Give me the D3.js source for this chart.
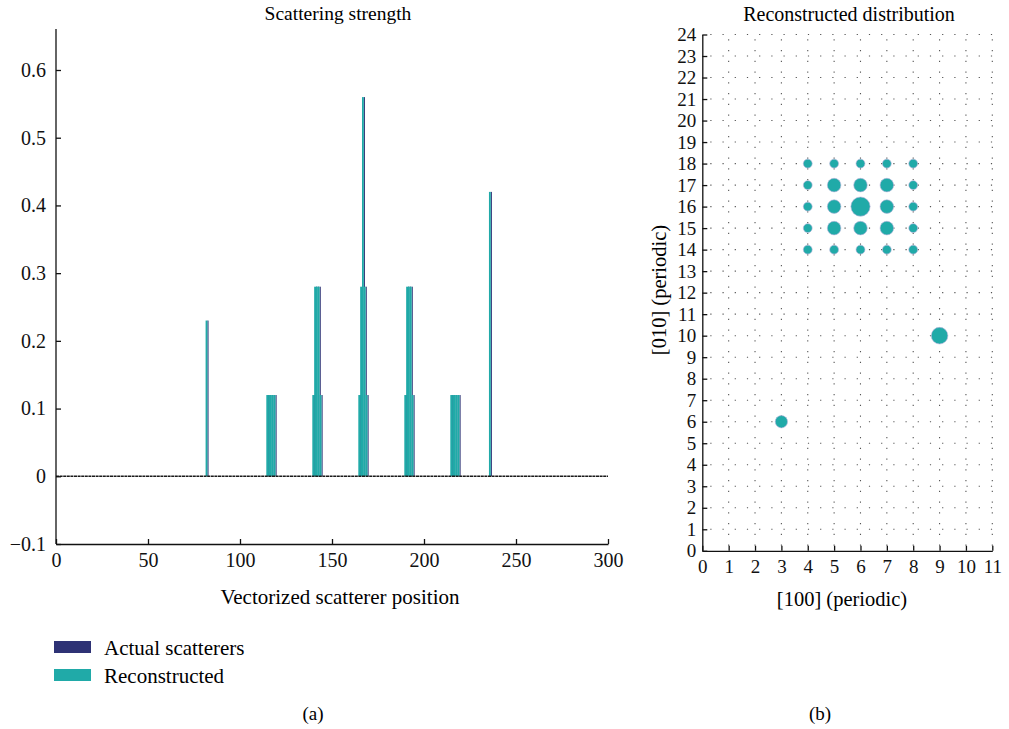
<!DOCTYPE html>
<html>
<head>
<meta charset="utf-8">
<script src="https://cdn.jsdelivr.net/npm/d3@7/dist/d3.min.js"></script>
<style>
  body { margin: 0; background: #fff; }
  svg { display: block; }
</style>
</head>
<body>
<svg id="chart" width="1009" height="729"></svg>
<script>
"use strict";

// non-zero entries of the 300-long scatterer vector (1-based index)
const positions = [82,
  115, 116, 117, 118, 119,
  140, 141, 142, 143, 144,
  165, 166, 167, 168, 169,
  190, 191, 192, 193, 194,
  215, 216, 217, 218, 219,
  236];
const actualValues = [0.23,
  0.12, 0.12, 0.12, 0.12, 0.12,
  0.12, 0.28, 0.28, 0.28, 0.12,
  0.12, 0.28, 0.56, 0.28, 0.12,
  0.12, 0.28, 0.28, 0.28, 0.12,
  0.12, 0.12, 0.12, 0.12, 0.12,
  0.42];
const reconstructedValues = actualValues.slice(); // exact recovery
const strengthTicks = [-0.1, 0, 0.1, 0.2, 0.3, 0.4, 0.5, 0.6];
const positionTicks = [0, 50, 100, 150, 200, 250, 300];
const gridCols = 12; // [100] 0..11
const gridRows = 25; // [010] 0..24
const legendLabels = ["Actual scatterers", "Reconstructed"];

const serif = "'Liberation Serif', 'DejaVu Serif', serif";
const navy = "#2e3275";
const teal = "#20aaa8";
const edge = "#b6b2dc";

const svg = d3.select("#chart").style("font-family", serif);

// ---------- (a) bar chart ----------
const xA = d3.scaleLinear().domain([0, 300]).range([56, 608]);
const yA = d3.scaleLinear().domain([-0.1, 0.6]).range([544, 70]);
const gA = svg.append("g");

gA.append("text").attr("x", 338).attr("y", 20).attr("text-anchor", "middle")
  .style("font-size", "19.5px").text("Scattering strength");

// one group per position: actual bar sits to the right, reconstructed on top to the left
const bars = gA.append("g").selectAll("g").data(positions).join("g");
bars.append("rect")
  .attr("x", (d) => xA(d + 0.3))
  .attr("width", (d) => xA(d + 0.9) - xA(d + 0.3))
  .attr("y", (d, i) => yA(actualValues[i]))
  .attr("height", (d, i) => yA(0) - yA(actualValues[i]))
  .attr("fill", navy);
bars.append("rect")
  .attr("x", (d) => xA(d - 0.7))
  .attr("width", (d) => xA(d + 0.3) - xA(d - 0.7))
  .attr("y", (d, i) => yA(reconstructedValues[i]))
  .attr("height", (d, i) => yA(0) - yA(reconstructedValues[i]))
  .attr("fill", teal);

// zero baseline
gA.append("line").attr("x1", xA(0)).attr("x2", xA(300))
  .attr("y1", yA(0)).attr("y2", yA(0))
  .attr("stroke", "#1a1a1a").attr("stroke-width", 1.6).attr("stroke-dasharray", "3,0.6");

const yAxisA = gA.append("g").attr("transform", `translate(${xA(0)},0)`)
  .call(d3.axisLeft(yA).tickValues(strengthTicks).tickSizeInner(-5).tickSizeOuter(0).tickPadding(10)
    .tickFormat((d) => d === 0 ? "0" : d3.format(".1f")(d).replace("-", "\u2212")));
yAxisA.select(".domain").attr("d", `M0,29V544`);

gA.append("g").attr("transform", `translate(0,${yA(-0.1)})`)
  .call(d3.axisBottom(xA).tickValues(positionTicks).tickSizeInner(-5).tickSizeOuter(0).tickPadding(9));

gA.selectAll(".tick text").style("font-family", serif).style("font-size", "20px").attr("fill", "#111");
gA.selectAll(".domain, .tick line").attr("stroke", "#111").attr("stroke-width", 1.3);

gA.append("text").attr("x", 340).attr("y", 604).attr("text-anchor", "middle")
  .style("font-size", "21px").text("Vectorized scatterer position");

// legend
const legend = gA.append("g").selectAll("g").data(legendLabels).join("g")
  .attr("transform", (d, i) => `translate(54,${641 + i * 28})`);
legend.append("rect").attr("width", 37).attr("height", 12)
  .attr("fill", (d, i) => i === 0 ? navy : teal);
legend.append("text").attr("x", 50).attr("y", 14).style("font-size", "21px").text((d) => d);

svg.append("text").attr("x", 313).attr("y", 720).attr("text-anchor", "middle")
  .style("font-size", "19px").text("(a)");

// ---------- (b) reconstructed distribution ----------
const xB = d3.scaleLinear().domain([0, gridCols - 1]).range([702.3, 992.3]);
const yB = d3.scaleLinear().domain([0, gridRows - 1]).range([550.8, 34.5]);
const rB = d3.scaleSqrt().domain([0, 0.56]).range([0, 9.6]);
const gB = svg.append("g");

gB.append("text").attr("x", 849).attr("y", 21).attr("text-anchor", "middle")
  .style("font-size", "20px").text("Reconstructed distribution");

// dotted grid
gB.append("g").selectAll("line").data(d3.range(1, gridRows)).join("line")
  .attr("x1", xB(0) + 8).attr("x2", xB(gridCols - 1))
  .attr("y1", (d) => yB(d)).attr("y2", (d) => yB(d))
  .attr("stroke", "#555").attr("stroke-width", 1.1).attr("stroke-dasharray", "1.2,11");
gB.append("g").selectAll("line").data(d3.range(1, gridCols)).join("line")
  .attr("x1", (d) => xB(d)).attr("x2", (d) => xB(d))
  .attr("y1", yB(0) - 5).attr("y2", yB(gridRows - 1))
  .attr("stroke", "#555").attr("stroke-width", 1.1).attr("stroke-dasharray", "1.2,9.55");

const cells = positions.map((p, i) => ({
  col: Math.floor((p - 1) / gridRows),
  row: (p - 1) % gridRows,
  value: reconstructedValues[i]
}));
gB.append("g").selectAll("circle").data(cells).join("circle")
  .attr("cx", (d) => xB(d.col)).attr("cy", (d) => yB(d.row))
  .attr("r", (d) => rB(d.value))
  .attr("fill", teal).attr("stroke", edge).attr("stroke-width", 0.6);

gB.append("g").attr("transform", `translate(${xB(0)},0)`)
  .call(d3.axisLeft(yB).tickValues(d3.range(gridRows)).tickSizeInner(-5).tickSizeOuter(0).tickPadding(6));
gB.append("g").attr("transform", `translate(0,${yB(0)})`)
  .call(d3.axisBottom(xB).tickValues(d3.range(gridCols)).tickSizeInner(-5).tickSizeOuter(0).tickPadding(9));

gB.selectAll(".tick text").style("font-family", serif).style("font-size", "19px").attr("fill", "#111");
gB.selectAll(".domain, .tick line").attr("stroke", "#111").attr("stroke-width", 1.3);

gB.append("text").attr("x", 842).attr("y", 606).attr("text-anchor", "middle")
  .style("font-size", "20.5px").text("[100] (periodic)");
gB.append("text").attr("transform", "translate(666,290) rotate(-90)").attr("text-anchor", "middle")
  .style("font-size", "20.5px").text("[010] (periodic)");

svg.append("text").attr("x", 820).attr("y", 720).attr("text-anchor", "middle")
  .style("font-size", "19px").text("(b)");
</script>
</body>
</html>
